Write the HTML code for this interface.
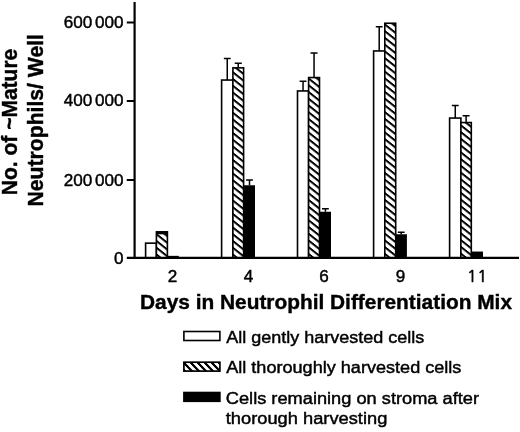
<!DOCTYPE html>
<html><head><meta charset="utf-8"><title>Neutrophil chart</title>
<style>
html,body{margin:0;padding:0;background:#fff}
svg{display:block}
text{font-family:"Liberation Sans",sans-serif;fill:#000}
.t{font-size:17.1px;stroke:#000;stroke-width:0.45px;word-spacing:-2.0px}
.b{font-weight:bold;font-size:20.8px;stroke:#000;stroke-width:0.4px}
.l{font-size:17.3px;stroke:#000;stroke-width:0.45px}
</style></head>
<body>
<svg width="520" height="432" viewBox="0 0 520 432">
<defs>
<pattern id="hb" patternUnits="userSpaceOnUse" width="10" height="6.75" patternTransform="translate(0 0.5) skewY(38.5)">
<rect width="10" height="6.75" fill="#fff"/><rect y="0" width="10" height="2.5" fill="#000"/>
</pattern>
<pattern id="hl" patternUnits="userSpaceOnUse" width="7" height="10" patternTransform="translate(0 0) skewX(44)">
<rect width="7" height="10" fill="#fff"/><rect x="0" width="3.1" height="10" fill="#000"/>
</pattern>
</defs>
<rect width="520" height="432" fill="#fff"/>
<rect x="145.60" y="243.15" width="10.80" height="14.75" fill="#fff" stroke="#000" stroke-width="1.6"/>
<rect x="156.40" y="231.85" width="11.00" height="26.05" fill="url(#hb)" stroke="#000" stroke-width="1.6"/>
<rect x="167.90" y="255.85" width="10.90" height="2.05" fill="#000"/>
<rect x="221.60" y="80.05" width="11.30" height="177.85" fill="#fff" stroke="#000" stroke-width="1.6"/>
<path d="M227.25 80.05V58.55M223.85 58.55H230.65" stroke="#000" stroke-width="1.5" fill="none"/>
<rect x="232.90" y="67.85" width="10.70" height="190.05" fill="url(#hb)" stroke="#000" stroke-width="1.6"/>
<path d="M238.25 67.85V63.15M234.75 63.15H241.75" stroke="#000" stroke-width="1.5" fill="none"/>
<rect x="244.00" y="185.25" width="11.00" height="72.65" fill="#000"/>
<path d="M249.50 185.25V180.05M246.10 180.05H252.90" stroke="#000" stroke-width="1.5" fill="none"/>
<rect x="297.50" y="90.95" width="11.10" height="166.95" fill="#fff" stroke="#000" stroke-width="1.6"/>
<path d="M303.05 90.95V81.25M299.65 81.25H306.45" stroke="#000" stroke-width="1.5" fill="none"/>
<rect x="308.60" y="77.55" width="10.90" height="180.35" fill="url(#hb)" stroke="#000" stroke-width="1.6"/>
<path d="M314.05 77.55V53.05M310.55 53.05H317.55" stroke="#000" stroke-width="1.5" fill="none"/>
<rect x="319.80" y="211.75" width="11.20" height="46.15" fill="#000"/>
<path d="M325.40 211.75V208.75M322.00 208.75H328.80" stroke="#000" stroke-width="1.5" fill="none"/>
<rect x="373.60" y="50.95" width="11.20" height="206.95" fill="#fff" stroke="#000" stroke-width="1.6"/>
<path d="M379.20 50.95V26.75M375.80 26.75H382.60" stroke="#000" stroke-width="1.5" fill="none"/>
<rect x="384.80" y="23.25" width="10.90" height="234.65" fill="url(#hb)" stroke="#000" stroke-width="1.6"/>
<rect x="395.50" y="234.25" width="11.40" height="23.65" fill="#000"/>
<path d="M401.20 234.25V232.15M397.80 232.15H404.60" stroke="#000" stroke-width="1.5" fill="none"/>
<rect x="449.60" y="118.05" width="11.30" height="139.85" fill="#fff" stroke="#000" stroke-width="1.6"/>
<path d="M455.25 118.05V105.55M451.85 105.55H458.65" stroke="#000" stroke-width="1.5" fill="none"/>
<rect x="460.90" y="122.55" width="10.40" height="135.35" fill="url(#hb)" stroke="#000" stroke-width="1.6"/>
<path d="M466.10 122.55V115.85M462.60 115.85H469.60" stroke="#000" stroke-width="1.5" fill="none"/>
<rect x="471.40" y="251.55" width="11.60" height="6.35" fill="#000"/>
<path d="M156.4 233H167.4" stroke="#000" stroke-width="2.6" fill="none"/>
<path d="M134.6 2V258.9" stroke="#000" stroke-width="2.2" fill="none"/>
<path d="M126.8 257.9H519" stroke="#000" stroke-width="2.1" fill="none"/>
<path d="M126.8 22.4H135M126.8 101H135M126.8 180H135" stroke="#000" stroke-width="2" fill="none"/>
<text class="t" x="123.5" y="28.0" text-anchor="end">600 000</text>
<text class="t" x="123.5" y="106.4" text-anchor="end">400 000</text>
<text class="t" x="123.5" y="185.6" text-anchor="end">200 000</text>
<text class="t" x="123.5" y="263.5" text-anchor="end">0</text>
<text class="t" x="172.5" y="282" text-anchor="middle">2</text>
<text class="t" x="248.4" y="282" text-anchor="middle">4</text>
<text class="t" x="324.1" y="282" text-anchor="middle">6</text>
<text class="t" x="400.4" y="282" text-anchor="middle">9</text>
<text class="t" x="477.3" y="282" text-anchor="middle" style="font-family:NanumGothic,'Liberation Sans',sans-serif;font-size:16.4px;letter-spacing:0.3px;stroke-width:0.65px">11</text>
<text class="b" x="140" y="308.6" textLength="372" lengthAdjust="spacingAndGlyphs">Days in Neutrophil Differentiation Mix</text>
<text class="b" style="font-size:22.2px" transform="translate(17.3 195.2) rotate(-90)" textLength="146.5" lengthAdjust="spacingAndGlyphs">No. of ~Mature</text>
<text class="b" style="font-size:22.2px" transform="translate(43.0 206.5) rotate(-90)" textLength="172.5" lengthAdjust="spacingAndGlyphs">Neutrophils/ Well</text>
<rect x="183.9" y="331.5" width="36" height="9" fill="#fff" stroke="#000" stroke-width="1.6"/>
<rect x="183.9" y="362.2" width="36" height="8.9" fill="url(#hl)" stroke="#000" stroke-width="1.7"/>
<rect x="183.1" y="391.7" width="37.6" height="10.4" fill="#000"/>
<text class="l" x="226.2" y="342.5" textLength="198" lengthAdjust="spacingAndGlyphs">All gently harvested cells</text>
<text class="l" x="226.2" y="373" textLength="235.2" lengthAdjust="spacingAndGlyphs">All thoroughly harvested cells</text>
<text class="l" x="225.8" y="403.7" textLength="253.2" lengthAdjust="spacingAndGlyphs">Cells remaining on stroma after</text>
<text class="l" x="225.8" y="423.6" textLength="161.5" lengthAdjust="spacingAndGlyphs">thorough harvesting</text>
</svg>
</body></html>
